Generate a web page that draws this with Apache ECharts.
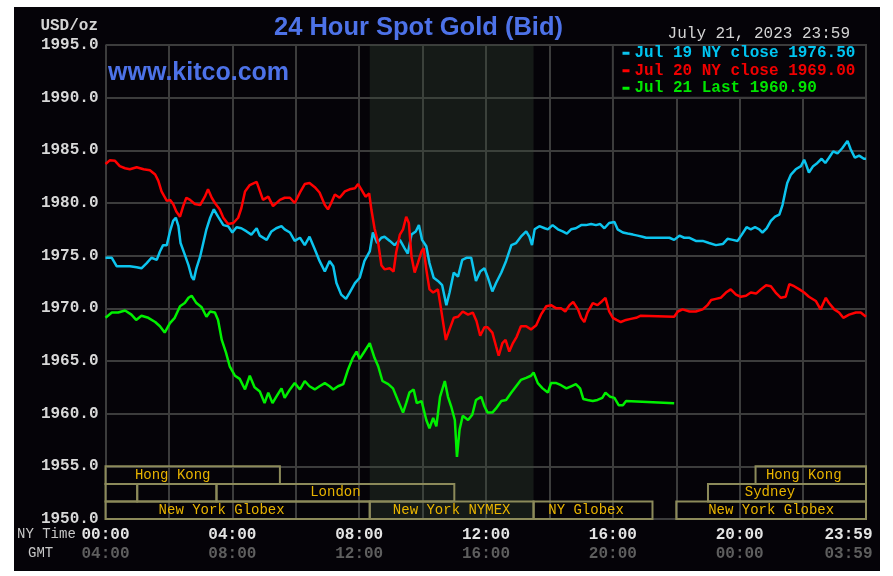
<!DOCTYPE html>
<html><head><meta charset="utf-8">
<script src="https://cdn.jsdelivr.net/npm/echarts@6/dist/echarts.min.js"></script>
<style>
html,body{margin:0;padding:0;background:#fff;width:893px;height:576px;overflow:hidden}
#c{position:absolute;left:14px;top:7px;width:866px;height:564px}
</style></head><body><div id="c"></div>
<script>
// ---------------- data ----------------
const titleText = '24 Hour Spot Gold (Bid)';
const siteText = 'www.kitco.com';
const unitText = 'USD/oz';
const dateText = 'July 21, 2023 23:59';
const seriesNames = ['Jul 19 NY close 1976.50', 'Jul 20 NY close 1969.00', 'Jul 21 Last 1960.90'];
const timeLabelsNY = ['00:00', '04:00', '08:00', '12:00', '16:00', '20:00', '23:59'];
const timeLabelsGMT = ['04:00', '08:00', '12:00', '16:00', '20:00', '00:00', '03:59'];
const timeLabelMinutes = [0, 240, 480, 720, 960, 1200, 1439];
const yMin = 1950, yMax = 1995, yStep = 5;
const xMin = 0, xMax = 1439, xStep = 120;
// minutes since 00:00 NY time, price
const jul19 = [[0,1974.8],[12,1974.8],[21,1974.0],[34,1974.0],[46,1974.0],[59,1973.9],[68,1973.8],[78,1974.3],[87,1974.8],[97,1974.6],[103,1975.4],[109,1976.0],[116,1976.0],[122,1977.3],[128,1978.3],[133,1978.6],[138,1977.8],[142,1976.2],[150,1975.1],[157,1974.1],[163,1973.0],[167,1972.7],[172,1973.8],[179,1974.9],[185,1976.2],[191,1977.5],[198,1978.6],[205,1979.4],[213,1978.7],[223,1977.9],[232,1977.8],[240,1977.2],[248,1977.7],[257,1977.6],[267,1977.3],[276,1977.0],[286,1977.6],[292,1976.9],[305,1976.5],[314,1977.3],[323,1977.6],[333,1977.8],[339,1977.5],[349,1977.2],[358,1976.4],[368,1976.7],[377,1976.0],[386,1976.8],[396,1975.6],[405,1974.5],[415,1973.5],[424,1974.5],[431,1974.0],[437,1972.4],[446,1971.3],[455,1970.9],[462,1971.5],[472,1972.4],[481,1972.9],[490,1974.5],[500,1975.4],[506,1977.2],[514,1976.2],[522,1976.7],[528,1976.8],[538,1976.4],[547,1976.0],[557,1976.5],[566,1975.7],[572,1975.2],[579,1977.0],[587,1977.3],[593,1977.9],[599,1976.5],[607,1975.9],[613,1974.3],[621,1972.9],[629,1972.6],[637,1972.2],[645,1970.3],[651,1971.5],[659,1973.4],[667,1973.0],[675,1974.6],[683,1974.8],[692,1974.8],[701,1972.6],[709,1973.5],[717,1973.8],[723,1973.0],[732,1971.6],[739,1972.4],[749,1973.4],[758,1974.5],[768,1976.0],[777,1976.2],[786,1976.8],[796,1977.3],[802,1976.8],[807,1976.0],[812,1977.5],[821,1977.8],[831,1977.6],[837,1977.5],[846,1977.9],[856,1977.5],[865,1977.3],[873,1977.1],[881,1977.5],[890,1977.6],[900,1977.9],[909,1977.9],[919,1978.0],[928,1977.9],[936,1978.0],[944,1977.6],[953,1978.1],[963,1978.2],[969,1977.5],[979,1977.2],[988,1977.1],[998,1977.0],[1007,1976.9],[1016,1976.8],[1023,1976.7],[1067,1976.7],[1076,1976.5],[1086,1976.9],[1095,1976.7],[1105,1976.7],[1117,1976.4],[1130,1976.4],[1142,1976.2],[1155,1976.0],[1168,1976.1],[1177,1976.6],[1187,1976.5],[1196,1976.4],[1204,1977.0],[1213,1977.7],[1221,1977.5],[1229,1977.7],[1237,1977.5],[1243,1977.2],[1251,1977.6],[1259,1978.3],[1267,1978.7],[1275,1978.9],[1281,1979.8],[1286,1981.0],[1290,1981.9],[1297,1982.7],[1306,1983.2],[1316,1983.5],[1322,1984.1],[1326,1983.6],[1331,1982.9],[1339,1983.5],[1347,1983.8],[1355,1984.2],[1362,1983.8],[1369,1984.3],[1377,1984.9],[1385,1984.7],[1394,1985.2],[1404,1985.9],[1410,1985.1],[1418,1984.3],[1426,1984.5],[1435,1984.2],[1439,1984.2]];
const jul20 = [[0,1983.7],[8,1984.05],[18,1984.0],[27,1983.5],[37,1983.3],[46,1983.2],[59,1983.4],[72,1983.2],[84,1983.1],[94,1982.7],[100,1982.1],[106,1981.1],[116,1980.2],[122,1980.3],[128,1979.9],[134,1979.2],[141,1978.7],[147,1979.7],[153,1980.5],[160,1980.3],[169,1979.9],[179,1979.8],[188,1980.6],[194,1981.3],[201,1980.5],[207,1980.0],[216,1979.4],[223,1978.6],[232,1978.0],[242,1978.1],[251,1978.6],[257,1979.5],[264,1981.1],[273,1981.7],[286,1982.0],[291,1981.3],[298,1980.3],[308,1980.6],[317,1979.7],[330,1980.3],[339,1980.5],[349,1980.5],[358,1980.0],[368,1981.0],[377,1981.8],[386,1981.9],[396,1981.5],[405,1981.0],[415,1979.8],[421,1979.4],[427,1980.0],[434,1980.8],[443,1980.5],[453,1981.1],[462,1981.3],[472,1981.4],[478,1981.8],[484,1981.3],[492,1980.6],[499,1980.9],[503,1979.4],[509,1977.6],[516,1976.2],[522,1974.1],[528,1973.7],[538,1973.8],[545,1973.5],[550,1975.3],[557,1977.0],[563,1977.5],[569,1978.7],[574,1978.1],[579,1974.9],[585,1973.4],[591,1974.3],[598,1975.4],[602,1975.7],[607,1973.7],[613,1971.8],[620,1971.5],[629,1971.8],[635,1969.9],[644,1967.0],[651,1968.0],[659,1969.1],[667,1969.2],[676,1969.7],[686,1969.4],[695,1969.6],[702,1968.8],[709,1967.4],[717,1968.2],[723,1968.2],[732,1967.7],[739,1966.4],[744,1965.5],[751,1966.7],[757,1967.0],[764,1965.9],[771,1966.7],[778,1967.3],[786,1968.3],[796,1968.3],[805,1968.0],[815,1968.4],[824,1969.4],[834,1970.2],[843,1970.3],[853,1970.0],[862,1970.0],[870,1969.7],[878,1970.3],[885,1970.6],[894,1969.9],[900,1969.1],[906,1968.7],[912,1969.6],[922,1970.5],[931,1970.3],[940,1970.7],[946,1971.0],[953,1969.7],[960,1969.1],[967,1968.9],[975,1968.7],[985,1968.9],[994,1969.0],[1004,1969.1],[1013,1969.3],[1076,1969.2],[1083,1969.7],[1092,1969.9],[1105,1969.7],[1117,1969.7],[1130,1969.9],[1139,1970.3],[1146,1970.8],[1155,1970.9],[1164,1971.0],[1174,1971.5],[1183,1971.8],[1193,1971.3],[1202,1971.1],[1212,1971.2],[1221,1971.5],[1231,1971.4],[1240,1971.8],[1250,1972.2],[1259,1972.1],[1268,1971.5],[1278,1971.0],[1287,1971.1],[1294,1972.3],[1303,1972.1],[1313,1971.8],[1322,1971.5],[1331,1971.1],[1344,1970.7],[1353,1969.9],[1363,1971.0],[1369,1970.5],[1379,1969.9],[1388,1969.6],[1396,1969.1],[1407,1969.4],[1420,1969.6],[1429,1969.6],[1439,1969.2]];
const jul21 = [[0,1969.1],[12,1969.6],[24,1969.6],[37,1969.8],[49,1969.4],[58,1968.9],[68,1969.3],[81,1969.1],[94,1968.7],[103,1968.3],[112,1967.7],[122,1968.6],[131,1969.1],[141,1970.2],[150,1970.5],[157,1971.0],[163,1971.2],[172,1970.5],[182,1970.1],[191,1969.2],[198,1969.7],[207,1969.6],[213,1968.9],[220,1967.0],[228,1965.8],[235,1964.5],[245,1963.6],[254,1963.3],[264,1962.3],[273,1963.6],[282,1962.5],[292,1962.1],[301,1961.0],[308,1962.0],[316,1961.0],[323,1961.6],[333,1962.4],[339,1961.5],[349,1962.3],[358,1962.9],[368,1962.3],[377,1963.1],[386,1962.6],[396,1962.3],[405,1962.6],[415,1962.9],[424,1962.6],[431,1962.3],[440,1962.6],[450,1962.8],[459,1964.2],[468,1965.3],[475,1965.9],[481,1965.2],[490,1965.9],[500,1966.7],[509,1965.3],[516,1964.5],[524,1963.1],[535,1962.8],[544,1962.4],[553,1961.3],[563,1960.1],[569,1961.0],[575,1962.0],[583,1962.3],[589,1961.0],[598,1961.2],[607,1959.4],[613,1958.6],[620,1959.6],[626,1958.8],[633,1961.6],[642,1963.1],[648,1961.6],[654,1960.7],[661,1959.4],[665,1955.9],[670,1958.5],[676,1959.8],[686,1959.4],[694,1959.9],[701,1961.3],[711,1961.6],[717,1960.7],[723,1960.1],[732,1960.1],[739,1960.5],[749,1961.2],[758,1961.3],[768,1962.0],[777,1962.6],[786,1963.2],[796,1963.4],[805,1963.6],[810,1963.9],[818,1962.9],[827,1962.4],[837,1962.0],[843,1962.9],[853,1962.9],[862,1962.7],[872,1962.4],[881,1962.6],[890,1962.8],[898,1962.4],[904,1961.4],[912,1961.3],[922,1961.2],[931,1961.3],[940,1961.5],[946,1962.0],[955,1961.6],[963,1961.5],[971,1960.8],[979,1960.8],[985,1961.2],[1076,1961.0]];
// trading sessions: name, row (0 top), start minute, end minute
const sessionNames = ['Hong Kong', 'Hong Kong', '', '', 'London', 'Sydney', 'New York Globex', 'New York NYMEX', 'NY Globex', 'New York Globex'];
const sessionRows  = [0, 0, 1, 1, 1, 1, 2, 2, 2, 2];
const sessionStart = [0, 1230, 0, 60, 210, 1140, 0, 500, 810, 1080];
const sessionEnd   = [330, 1439, 60, 210, 660, 1439, 500, 810, 1035, 1439];
const nymexStart = 500, nymexEnd = 810;
const legendBoxFrom = 960, legendBoxTo = 1439, legendBoxLow = 1990, legendBoxHigh = 1995;

// ---------------- styles ----------------
const BG = '#050308';
const GRID = '#3c3c3c';
const MONO = '"Liberation Mono", "DejaVu Sans Mono", monospace';
const lineColors = ['#0cc4ee', '#ff0000', '#00f000'];
const legendColors = ['#00c4f0', '#f00000', '#00e400'];
const labelShift = [-20, -7, 0, 0, 0, -17, -16, 0, -7, 0];

const chart = echarts.init(document.getElementById('c'), null, {renderer: 'canvas'});

const rowH = 5 / 3;
const sessionAreas = sessionNames.map((n, i) => {
  const top = 1955 - sessionRows[i] * rowH;
  return [{
    xAxis: sessionStart[i], yAxis: top, name: n,
    itemStyle: {color: 'rgba(0,0,0,0)', borderColor: '#8c8a5a', borderWidth: 2},
    label: {show: !!n, position: 'inside', color: '#e8b400', fontFamily: MONO, fontSize: 14, offset: [labelShift[i], 0]}
  }, {xAxis: sessionEnd[i], yAxis: top - rowH}];
});

function fmtX(v) {
  const k = timeLabelMinutes.indexOf(Math.round(v));
  if (k < 0) return '';
  const last = k === timeLabelMinutes.length - 1;
  return last ? '{c|' + timeLabelsNY[k] + '}\n{d|' + timeLabelsGMT[k] + '}'
              : '{a|' + timeLabelsNY[k] + '}\n{b|' + timeLabelsGMT[k] + '}';
}

const seriesData = [jul19, jul20, jul21];
const series = seriesData.map((d, i) => ({
  name: seriesNames[i], type: 'line', data: d, showSymbol: false, symbol: 'none',
  lineStyle: {color: lineColors[i], width: 2.5}, itemStyle: {color: lineColors[i]},
  z: 3 + i, animation: false
}));
series[0].markArea = {
  silent: true, animation: false,
  data: [
    [{xAxis: nymexStart, itemStyle: {color: 'rgba(60,80,60,0.3)', borderWidth: 0}, label: {show: false}}, {xAxis: nymexEnd}],
    ...sessionAreas,
    [{xAxis: legendBoxFrom, yAxis: legendBoxHigh, itemStyle: {color: BG, borderColor: GRID, borderWidth: 2}, label: {show: false}},
     {xAxis: legendBoxTo, yAxis: legendBoxLow}]
  ]
};

chart.setOption({
  backgroundColor: BG,
  animation: false,
  grid: {left: 91.5, right: 14, top: 38, bottom: 52, containLabel: false, outerBoundsMode: 'none'},
  xAxis: {
    type: 'value', min: xMin, max: xMax, interval: xStep,
    axisLine: {show: false}, axisTick: {show: false},
    splitLine: {show: true, lineStyle: {color: GRID, width: 2}},
    axisLabel: {
      margin: 6, formatter: fmtX, showMinLabel: true, showMaxLabel: true, hideOverlap: false,
      rich: {
        a: {fontFamily: MONO, fontSize: 16, fontWeight: 'bold', color: '#e4e4e4', lineHeight: 19},
        b: {fontFamily: MONO, fontSize: 16, fontWeight: 'bold', color: '#5e5e5e', lineHeight: 19},
        c: {fontFamily: MONO, fontSize: 16, fontWeight: 'bold', color: '#e4e4e4', lineHeight: 19, padding: [0, 35, 0, 0]},
        d: {fontFamily: MONO, fontSize: 16, fontWeight: 'bold', color: '#5e5e5e', lineHeight: 19, padding: [0, 35, 0, 0]}
      }
    }
  },
  yAxis: {
    type: 'value', min: yMin, max: yMax, interval: yStep,
    axisLine: {show: false}, axisTick: {show: false},
    splitLine: {show: true, lineStyle: {color: GRID, width: 2}},
    axisLabel: {formatter: v => v.toFixed(1), color: '#d8d8d8', fontFamily: MONO, fontSize: 16, fontWeight: 'bold', margin: 7}
  },
  legend: {
    orient: 'vertical', left: 608.5, top: 37.5, padding: 0, itemGap: 0,
    itemWidth: 7, itemHeight: 3, icon: 'rect', selectedMode: false,
    textStyle: {fontFamily: MONO, fontSize: 16, fontWeight: 'bold', lineHeight: 17.5},
    data: seriesNames.map((n, i) => ({name: n, textStyle: {color: legendColors[i]}}))
  },
  graphic: [
    {type: 'text', x: 404.5, y: 21, z: 10, style: {text: titleText, fill: '#4d72e8', font: 'bold 25.5px "Liberation Sans", Arial, sans-serif', align: 'center', verticalAlign: 'middle'}},
    {type: 'text', x: 94, y: 66, z: 10, style: {text: siteText, fill: '#4d72e8', font: 'bold 25px "Liberation Sans", Arial, sans-serif', align: 'left', verticalAlign: 'middle'}},
    {type: 'text', x: 84, y: 19, z: 10, style: {text: unitText, fill: '#d4d4d4', font: 'bold 16px ' + MONO, align: 'right', verticalAlign: 'middle'}},
    {type: 'text', x: 836, y: 27, z: 10, style: {text: dateText, fill: '#d4d4d4', font: '16px ' + MONO, align: 'right', verticalAlign: 'middle'}},
    {type: 'text', x: 3, y: 527, z: 10, style: {text: 'NY Time', fill: '#c8c8c8', font: '14px ' + MONO, align: 'left', verticalAlign: 'middle'}},
    {type: 'text', x: 14, y: 546, z: 10, style: {text: 'GMT', fill: '#c8c8c8', font: '14px ' + MONO, align: 'left', verticalAlign: 'middle'}}
  ],
  series: series
});
</script></body></html>
